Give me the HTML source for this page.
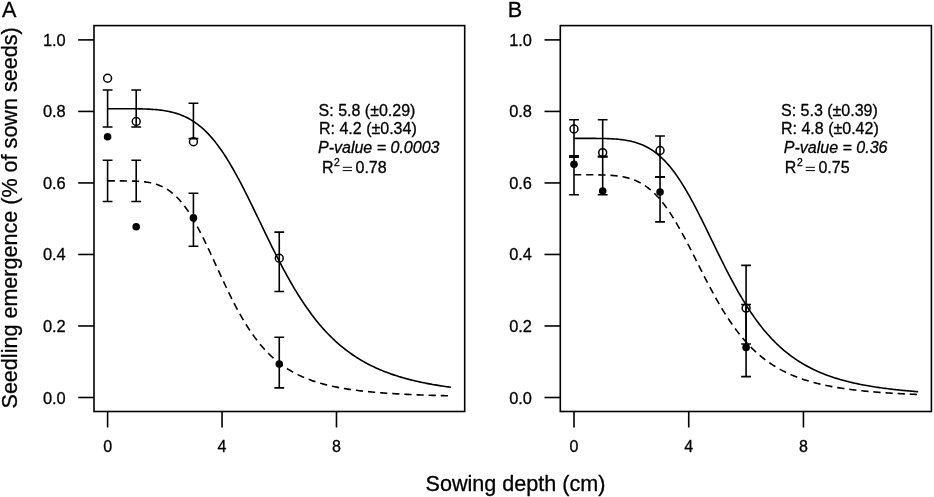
<!DOCTYPE html>
<html><head><meta charset="utf-8"><title>Seedling emergence vs sowing depth</title>
<style>html,body{margin:0;padding:0;background:#fff;}body{width:934px;height:497px;overflow:hidden;font-family:"Liberation Sans",sans-serif;}svg{display:block;filter:grayscale(1);}</style>
</head><body>
<svg width="934" height="497" viewBox="0 0 934 497">
<rect width="934" height="497" fill="#fff"/>
<g fill="none" stroke="#000" stroke-width="1.60" stroke-linecap="butt">
<rect x="94.00" y="25.60" width="370.70" height="385.90"/>
<path d="M78.20,397.50 H94.00"/>
<path d="M78.20,325.98 H94.00"/>
<path d="M78.20,254.46 H94.00"/>
<path d="M78.20,182.94 H94.00"/>
<path d="M78.20,111.42 H94.00"/>
<path d="M78.20,39.90 H94.00"/>
<path d="M107.60,411.50 V427.50"/>
<path d="M222.04,411.50 V427.50"/>
<path d="M336.48,411.50 V427.50"/>
<path d="M107.60,108.70 L109.03,108.70 L110.46,108.70 L111.89,108.70 L113.32,108.70 L114.75,108.70 L116.18,108.70 L117.61,108.70 L119.04,108.70 L120.47,108.70 L121.91,108.71 L123.34,108.71 L124.77,108.71 L126.20,108.71 L127.63,108.72 L129.06,108.72 L130.49,108.73 L131.92,108.74 L133.35,108.75 L134.78,108.77 L136.21,108.79 L137.64,108.81 L139.07,108.83 L140.50,108.86 L141.93,108.90 L143.36,108.94 L144.79,108.98 L146.22,109.04 L147.65,109.10 L149.08,109.17 L150.51,109.25 L151.95,109.33 L153.38,109.43 L154.81,109.54 L156.24,109.67 L157.67,109.81 L159.10,109.96 L160.53,110.13 L161.96,110.31 L163.39,110.51 L164.82,110.74 L166.25,110.98 L167.68,111.25 L169.11,111.53 L170.54,111.85 L171.97,112.18 L173.40,112.55 L174.83,112.95 L176.26,113.37 L177.69,113.83 L179.12,114.32 L180.56,114.84 L181.99,115.40 L183.42,116.00 L184.85,116.64 L186.28,117.32 L187.71,118.04 L189.14,118.81 L190.57,119.62 L192.00,120.48 L193.43,121.38 L194.86,122.34 L196.29,123.35 L197.72,124.40 L199.15,125.52 L200.58,126.68 L202.01,127.91 L203.44,129.19 L204.87,130.52 L206.30,131.92 L207.73,133.37 L209.17,134.89 L210.60,136.46 L212.03,138.10 L213.46,139.80 L214.89,141.55 L216.32,143.37 L217.75,145.25 L219.18,147.19 L220.61,149.19 L222.04,151.25 L223.47,153.37 L224.90,155.55 L226.33,157.78 L227.76,160.07 L229.19,162.41 L230.62,164.80 L232.05,167.25 L233.48,169.75 L234.91,172.29 L236.34,174.88 L237.78,177.51 L239.21,180.18 L240.64,182.89 L242.07,185.64 L243.50,188.43 L244.93,191.24 L246.36,194.08 L247.79,196.95 L249.22,199.84 L250.65,202.75 L252.08,205.68 L253.51,208.63 L254.94,211.58 L256.37,214.55 L257.80,217.52 L259.23,220.50 L260.66,223.47 L262.09,226.45 L263.52,229.42 L264.95,232.39 L266.39,235.34 L267.82,238.29 L269.25,241.22 L270.68,244.13 L272.11,247.03 L273.54,249.91 L274.97,252.76 L276.40,255.59 L277.83,258.39 L279.26,261.17 L280.69,263.92 L282.12,266.64 L283.55,269.32 L284.98,271.98 L286.41,274.59 L287.84,277.18 L289.27,279.73 L290.70,282.24 L292.13,284.71 L293.56,287.15 L295.00,289.54 L296.43,291.90 L297.86,294.22 L299.29,296.49 L300.72,298.73 L302.15,300.93 L303.58,303.09 L305.01,305.20 L306.44,307.28 L307.87,309.31 L309.30,311.31 L310.73,313.26 L312.16,315.18 L313.59,317.06 L315.02,318.89 L316.45,320.69 L317.88,322.45 L319.31,324.17 L320.74,325.86 L322.17,327.50 L323.61,329.11 L325.04,330.69 L326.47,332.22 L327.90,333.73 L329.33,335.20 L330.76,336.63 L332.19,338.03 L333.62,339.40 L335.05,340.74 L336.48,342.05 L337.91,343.32 L339.34,344.56 L340.77,345.78 L342.20,346.96 L343.63,348.12 L345.06,349.25 L346.49,350.35 L347.92,351.43 L349.35,352.48 L350.78,353.50 L352.22,354.50 L353.65,355.47 L355.08,356.42 L356.51,357.35 L357.94,358.25 L359.37,359.13 L360.80,359.99 L362.23,360.83 L363.66,361.65 L365.09,362.45 L366.52,363.23 L367.95,363.98 L369.38,364.72 L370.81,365.45 L372.24,366.15 L373.67,366.84 L375.10,367.51 L376.53,368.16 L377.96,368.80 L379.39,369.42 L380.83,370.03 L382.26,370.62 L383.69,371.20 L385.12,371.76 L386.55,372.31 L387.98,372.85 L389.41,373.37 L390.84,373.88 L392.27,374.38 L393.70,374.87 L395.13,375.34 L396.56,375.81 L397.99,376.26 L399.42,376.70 L400.85,377.13 L402.28,377.55 L403.71,377.96 L405.14,378.36 L406.57,378.75 L408.00,379.13 L409.44,379.51 L410.87,379.87 L412.30,380.23 L413.73,380.57 L415.16,380.91 L416.59,381.24 L418.02,381.57 L419.45,381.88 L420.88,382.19 L422.31,382.49 L423.74,382.79 L425.17,383.07 L426.60,383.35 L428.03,383.63 L429.46,383.90 L430.89,384.16 L432.32,384.42 L433.75,384.67 L435.18,384.91 L436.62,385.15 L438.05,385.39 L439.48,385.61 L440.91,385.84 L442.34,386.06 L443.77,386.27 L445.20,386.48 L446.63,386.68 L448.06,386.88 L449.49,387.08 L450.92,387.27" stroke-linejoin="round"/>
<path d="M107.60,180.90 L109.03,180.90 L110.46,180.90 L111.89,180.90 L113.32,180.90 L114.75,180.90 L116.18,180.90 L117.61,180.90 L119.04,180.91 L120.47,180.91 L121.91,180.91 L123.34,180.92 L124.77,180.93 L126.20,180.94 L127.63,180.96 L129.06,180.98 L130.49,181.01 L131.92,181.04 L133.35,181.09 L134.78,181.14 L136.21,181.20 L137.64,181.28 L139.07,181.37 L140.50,181.47 L141.93,181.60 L143.36,181.74 L144.79,181.90 L146.22,182.09 L147.65,182.31 L149.08,182.55 L150.51,182.83 L151.95,183.14 L153.38,183.49 L154.81,183.88 L156.24,184.31 L157.67,184.79 L159.10,185.31 L160.53,185.89 L161.96,186.53 L163.39,187.22 L164.82,187.97 L166.25,188.79 L167.68,189.68 L169.11,190.64 L170.54,191.67 L171.97,192.78 L173.40,193.97 L174.83,195.24 L176.26,196.59 L177.69,198.03 L179.12,199.55 L180.56,201.16 L181.99,202.86 L183.42,204.65 L184.85,206.53 L186.28,208.50 L187.71,210.56 L189.14,212.71 L190.57,214.94 L192.00,217.26 L193.43,219.66 L194.86,222.14 L196.29,224.69 L197.72,227.32 L199.15,230.02 L200.58,232.78 L202.01,235.60 L203.44,238.47 L204.87,241.40 L206.30,244.37 L207.73,247.38 L209.17,250.43 L210.60,253.50 L212.03,256.59 L213.46,259.70 L214.89,262.82 L216.32,265.95 L217.75,269.07 L219.18,272.19 L220.61,275.30 L222.04,278.39 L223.47,281.46 L224.90,284.51 L226.33,287.53 L227.76,290.51 L229.19,293.45 L230.62,296.36 L232.05,299.22 L233.48,302.04 L234.91,304.80 L236.34,307.52 L237.78,310.18 L239.21,312.79 L240.64,315.34 L242.07,317.83 L243.50,320.27 L244.93,322.64 L246.36,324.96 L247.79,327.22 L249.22,329.42 L250.65,331.56 L252.08,333.64 L253.51,335.66 L254.94,337.62 L256.37,339.53 L257.80,341.38 L259.23,343.17 L260.66,344.91 L262.09,346.60 L263.52,348.23 L264.95,349.81 L266.39,351.34 L267.82,352.82 L269.25,354.25 L270.68,355.64 L272.11,356.98 L273.54,358.27 L274.97,359.53 L276.40,360.74 L277.83,361.91 L279.26,363.04 L280.69,364.13 L282.12,365.18 L283.55,366.20 L284.98,367.19 L286.41,368.14 L287.84,369.06 L289.27,369.94 L290.70,370.80 L292.13,371.62 L293.56,372.42 L295.00,373.19 L296.43,373.94 L297.86,374.66 L299.29,375.35 L300.72,376.02 L302.15,376.67 L303.58,377.30 L305.01,377.90 L306.44,378.49 L307.87,379.05 L309.30,379.60 L310.73,380.12 L312.16,380.63 L313.59,381.12 L315.02,381.60 L316.45,382.06 L317.88,382.50 L319.31,382.93 L320.74,383.35 L322.17,383.75 L323.61,384.14 L325.04,384.51 L326.47,384.88 L327.90,385.23 L329.33,385.57 L330.76,385.90 L332.19,386.22 L333.62,386.52 L335.05,386.82 L336.48,387.11 L337.91,387.39 L339.34,387.66 L340.77,387.92 L342.20,388.18 L343.63,388.43 L345.06,388.66 L346.49,388.90 L347.92,389.12 L349.35,389.34 L350.78,389.55 L352.22,389.75 L353.65,389.95 L355.08,390.14 L356.51,390.33 L357.94,390.51 L359.37,390.68 L360.80,390.85 L362.23,391.02 L363.66,391.18 L365.09,391.33 L366.52,391.48 L367.95,391.63 L369.38,391.77 L370.81,391.91 L372.24,392.05 L373.67,392.18 L375.10,392.30 L376.53,392.43 L377.96,392.54 L379.39,392.66 L380.83,392.77 L382.26,392.88 L383.69,392.99 L385.12,393.09 L386.55,393.20 L387.98,393.29 L389.41,393.39 L390.84,393.48 L392.27,393.57 L393.70,393.66 L395.13,393.75 L396.56,393.83 L397.99,393.91 L399.42,393.99 L400.85,394.07 L402.28,394.14 L403.71,394.21 L405.14,394.28 L406.57,394.35 L408.00,394.42 L409.44,394.49 L410.87,394.55 L412.30,394.61 L413.73,394.67 L415.16,394.73 L416.59,394.79 L418.02,394.85 L419.45,394.90 L420.88,394.96 L422.31,395.01 L423.74,395.06 L425.17,395.11 L426.60,395.16 L428.03,395.20 L429.46,395.25 L430.89,395.29 L432.32,395.34 L433.75,395.38 L435.18,395.42 L436.62,395.46 L438.05,395.50 L439.48,395.54 L440.91,395.58 L442.34,395.62 L443.77,395.65 L445.20,395.69 L446.63,395.72 L448.06,395.76 L449.49,395.79 L450.92,395.82" stroke-linejoin="round" stroke-dasharray="7.25 4.9"/>
<path d="M107.60,90.00 V127.00 M102.70,90.00 H112.50 M102.70,127.00 H112.50"/>
<path d="M136.21,90.00 V127.00 M131.31,90.00 H141.11 M131.31,127.00 H141.11"/>
<path d="M193.43,103.30 V138.60 M188.53,103.30 H198.33 M188.53,138.60 H198.33"/>
<path d="M279.26,232.10 V291.50 M274.36,232.10 H284.16 M274.36,291.50 H284.16"/>
<path d="M107.60,160.30 V201.50 M102.70,160.30 H112.50 M102.70,201.50 H112.50"/>
<path d="M136.21,160.30 V201.50 M131.31,160.30 H141.11 M131.31,201.50 H141.11"/>
<path d="M193.43,193.30 V246.30 M188.53,193.30 H198.33 M188.53,246.30 H198.33"/>
<path d="M279.26,337.30 V387.90 M274.36,337.30 H284.16 M274.36,387.90 H284.16"/>
<circle cx="107.60" cy="78.30" r="3.95" stroke-width="1.5"/>
<circle cx="136.21" cy="121.50" r="3.95" stroke-width="1.5"/>
<circle cx="193.43" cy="141.80" r="3.95" stroke-width="1.5"/>
<circle cx="279.26" cy="258.30" r="3.95" stroke-width="1.5"/>
<circle cx="107.60" cy="136.70" r="3.8" fill="#000" stroke="none"/>
<circle cx="136.21" cy="226.70" r="3.8" fill="#000" stroke="none"/>
<circle cx="193.43" cy="217.90" r="3.8" fill="#000" stroke="none"/>
<circle cx="279.26" cy="364.10" r="3.8" fill="#000" stroke="none"/>
<rect x="560.30" y="25.60" width="371.10" height="385.90"/>
<path d="M544.50,397.50 H560.30"/>
<path d="M544.50,325.98 H560.30"/>
<path d="M544.50,254.46 H560.30"/>
<path d="M544.50,182.94 H560.30"/>
<path d="M544.50,111.42 H560.30"/>
<path d="M544.50,39.90 H560.30"/>
<path d="M574.00,411.50 V427.50"/>
<path d="M688.72,411.50 V427.50"/>
<path d="M803.44,411.50 V427.50"/>
<path d="M574.00,138.38 L575.43,138.38 L576.87,138.38 L578.30,138.38 L579.74,138.38 L581.17,138.38 L582.60,138.38 L584.04,138.38 L585.47,138.38 L586.91,138.39 L588.34,138.39 L589.77,138.39 L591.21,138.39 L592.64,138.40 L594.08,138.41 L595.51,138.42 L596.94,138.43 L598.38,138.44 L599.81,138.46 L601.25,138.48 L602.68,138.51 L604.11,138.54 L605.55,138.57 L606.98,138.62 L608.42,138.67 L609.85,138.73 L611.28,138.79 L612.72,138.87 L614.15,138.96 L615.59,139.06 L617.02,139.17 L618.45,139.30 L619.89,139.45 L621.32,139.61 L622.76,139.79 L624.19,139.99 L625.62,140.21 L627.06,140.45 L628.49,140.71 L629.93,141.01 L631.36,141.33 L632.79,141.68 L634.23,142.06 L635.66,142.47 L637.10,142.92 L638.53,143.41 L639.96,143.93 L641.40,144.49 L642.83,145.10 L644.27,145.75 L645.70,146.44 L647.13,147.18 L648.57,147.97 L650.00,148.82 L651.44,149.71 L652.87,150.66 L654.30,151.67 L655.74,152.74 L657.17,153.86 L658.61,155.04 L660.04,156.29 L661.47,157.60 L662.91,158.97 L664.34,160.41 L665.78,161.92 L667.21,163.49 L668.64,165.13 L670.08,166.83 L671.51,168.61 L672.95,170.44 L674.38,172.35 L675.81,174.32 L677.25,176.36 L678.68,178.46 L680.12,180.63 L681.55,182.86 L682.98,185.15 L684.42,187.50 L685.85,189.91 L687.29,192.37 L688.72,194.88 L690.15,197.45 L691.59,200.06 L693.02,202.72 L694.46,205.42 L695.89,208.16 L697.32,210.94 L698.76,213.75 L700.19,216.59 L701.63,219.45 L703.06,222.35 L704.49,225.26 L705.93,228.18 L707.36,231.12 L708.80,234.07 L710.23,237.03 L711.66,239.99 L713.10,242.95 L714.53,245.90 L715.97,248.85 L717.40,251.79 L718.83,254.72 L720.27,257.63 L721.70,260.52 L723.14,263.39 L724.57,266.24 L726.00,269.07 L727.44,271.86 L728.87,274.63 L730.31,277.37 L731.74,280.07 L733.17,282.74 L734.61,285.37 L736.04,287.96 L737.48,290.52 L738.91,293.03 L740.34,295.50 L741.78,297.94 L743.21,300.32 L744.65,302.67 L746.08,304.97 L747.51,307.23 L748.95,309.45 L750.38,311.61 L751.82,313.74 L753.25,315.82 L754.68,317.86 L756.12,319.85 L757.55,321.80 L758.99,323.70 L760.42,325.56 L761.85,327.38 L763.29,329.15 L764.72,330.89 L766.16,332.58 L767.59,334.23 L769.02,335.84 L770.46,337.40 L771.89,338.94 L773.33,340.43 L774.76,341.88 L776.19,343.30 L777.63,344.68 L779.06,346.02 L780.50,347.33 L781.93,348.61 L783.36,349.85 L784.80,351.06 L786.23,352.23 L787.67,353.38 L789.10,354.50 L790.53,355.58 L791.97,356.64 L793.40,357.66 L794.84,358.66 L796.27,359.64 L797.70,360.58 L799.14,361.50 L800.57,362.40 L802.01,363.27 L803.44,364.12 L804.87,364.94 L806.31,365.75 L807.74,366.53 L809.18,367.29 L810.61,368.02 L812.04,368.74 L813.48,369.44 L814.91,370.12 L816.35,370.78 L817.78,371.43 L819.21,372.05 L820.65,372.66 L822.08,373.25 L823.52,373.83 L824.95,374.39 L826.38,374.94 L827.82,375.47 L829.25,375.98 L830.69,376.49 L832.12,376.98 L833.55,377.45 L834.99,377.92 L836.42,378.37 L837.86,378.81 L839.29,379.24 L840.72,379.65 L842.16,380.06 L843.59,380.45 L845.03,380.84 L846.46,381.21 L847.89,381.58 L849.33,381.93 L850.76,382.28 L852.20,382.61 L853.63,382.94 L855.06,383.26 L856.50,383.57 L857.93,383.88 L859.37,384.17 L860.80,384.46 L862.23,384.74 L863.67,385.02 L865.10,385.28 L866.54,385.55 L867.97,385.80 L869.40,386.05 L870.84,386.29 L872.27,386.52 L873.71,386.75 L875.14,386.98 L876.57,387.20 L878.01,387.41 L879.44,387.62 L880.88,387.82 L882.31,388.02 L883.74,388.21 L885.18,388.40 L886.61,388.58 L888.05,388.76 L889.48,388.94 L890.91,389.11 L892.35,389.28 L893.78,389.44 L895.22,389.60 L896.65,389.75 L898.08,389.90 L899.52,390.05 L900.95,390.20 L902.39,390.34 L903.82,390.48 L905.25,390.61 L906.69,390.74 L908.12,390.87 L909.56,391.00 L910.99,391.12 L912.42,391.24 L913.86,391.36 L915.29,391.48 L916.73,391.59 L918.16,391.70" stroke-linejoin="round"/>
<path d="M574.00,174.79 L575.43,174.79 L576.87,174.79 L578.30,174.79 L579.74,174.79 L581.17,174.79 L582.60,174.79 L584.04,174.79 L585.47,174.79 L586.91,174.79 L588.34,174.79 L589.77,174.80 L591.21,174.80 L592.64,174.81 L594.08,174.82 L595.51,174.83 L596.94,174.85 L598.38,174.87 L599.81,174.90 L601.25,174.93 L602.68,174.96 L604.11,175.01 L605.55,175.06 L606.98,175.12 L608.42,175.20 L609.85,175.28 L611.28,175.38 L612.72,175.49 L614.15,175.62 L615.59,175.76 L617.02,175.92 L618.45,176.11 L619.89,176.31 L621.32,176.54 L622.76,176.80 L624.19,177.08 L625.62,177.40 L627.06,177.74 L628.49,178.12 L629.93,178.54 L631.36,178.99 L632.79,179.49 L634.23,180.03 L635.66,180.61 L637.10,181.24 L638.53,181.92 L639.96,182.66 L641.40,183.44 L642.83,184.29 L644.27,185.19 L645.70,186.15 L647.13,187.17 L648.57,188.26 L650.00,189.41 L651.44,190.63 L652.87,191.92 L654.30,193.28 L655.74,194.70 L657.17,196.20 L658.61,197.77 L660.04,199.42 L661.47,201.13 L662.91,202.92 L664.34,204.78 L665.78,206.71 L667.21,208.71 L668.64,210.78 L670.08,212.92 L671.51,215.12 L672.95,217.38 L674.38,219.71 L675.81,222.10 L677.25,224.54 L678.68,227.03 L680.12,229.58 L681.55,232.17 L682.98,234.80 L684.42,237.47 L685.85,240.18 L687.29,242.92 L688.72,245.69 L690.15,248.48 L691.59,251.29 L693.02,254.11 L694.46,256.95 L695.89,259.79 L697.32,262.63 L698.76,265.48 L700.19,268.32 L701.63,271.15 L703.06,273.97 L704.49,276.77 L705.93,279.56 L707.36,282.32 L708.80,285.06 L710.23,287.77 L711.66,290.45 L713.10,293.09 L714.53,295.71 L715.97,298.28 L717.40,300.82 L718.83,303.31 L720.27,305.77 L721.70,308.18 L723.14,310.55 L724.57,312.87 L726.00,315.14 L727.44,317.37 L728.87,319.55 L730.31,321.69 L731.74,323.77 L733.17,325.81 L734.61,327.80 L736.04,329.75 L737.48,331.64 L738.91,333.49 L740.34,335.29 L741.78,337.05 L743.21,338.75 L744.65,340.42 L746.08,342.04 L747.51,343.61 L748.95,345.14 L750.38,346.63 L751.82,348.08 L753.25,349.49 L754.68,350.85 L756.12,352.18 L757.55,353.47 L758.99,354.72 L760.42,355.93 L761.85,357.11 L763.29,358.25 L764.72,359.36 L766.16,360.44 L767.59,361.49 L769.02,362.50 L770.46,363.48 L771.89,364.43 L773.33,365.36 L774.76,366.26 L776.19,367.12 L777.63,367.97 L779.06,368.78 L780.50,369.58 L781.93,370.34 L783.36,371.09 L784.80,371.81 L786.23,372.51 L787.67,373.19 L789.10,373.85 L790.53,374.49 L791.97,375.11 L793.40,375.71 L794.84,376.29 L796.27,376.85 L797.70,377.40 L799.14,377.93 L800.57,378.45 L802.01,378.95 L803.44,379.43 L804.87,379.90 L806.31,380.36 L807.74,380.80 L809.18,381.23 L810.61,381.65 L812.04,382.05 L813.48,382.44 L814.91,382.82 L816.35,383.19 L817.78,383.55 L819.21,383.90 L820.65,384.24 L822.08,384.57 L823.52,384.89 L824.95,385.20 L826.38,385.50 L827.82,385.79 L829.25,386.08 L830.69,386.35 L832.12,386.62 L833.55,386.88 L834.99,387.13 L836.42,387.38 L837.86,387.62 L839.29,387.85 L840.72,388.08 L842.16,388.30 L843.59,388.51 L845.03,388.72 L846.46,388.92 L847.89,389.12 L849.33,389.31 L850.76,389.50 L852.20,389.68 L853.63,389.86 L855.06,390.03 L856.50,390.20 L857.93,390.36 L859.37,390.52 L860.80,390.67 L862.23,390.82 L863.67,390.97 L865.10,391.11 L866.54,391.25 L867.97,391.38 L869.40,391.52 L870.84,391.64 L872.27,391.77 L873.71,391.89 L875.14,392.01 L876.57,392.13 L878.01,392.24 L879.44,392.35 L880.88,392.46 L882.31,392.56 L883.74,392.66 L885.18,392.76 L886.61,392.86 L888.05,392.95 L889.48,393.05 L890.91,393.14 L892.35,393.22 L893.78,393.31 L895.22,393.39 L896.65,393.48 L898.08,393.56 L899.52,393.63 L900.95,393.71 L902.39,393.78 L903.82,393.86 L905.25,393.93 L906.69,394.00 L908.12,394.06 L909.56,394.13 L910.99,394.19 L912.42,394.26 L913.86,394.32 L915.29,394.38 L916.73,394.44 L918.16,394.50" stroke-linejoin="round" stroke-dasharray="7.25 4.9"/>
<path d="M574.00,119.70 V157.10 M569.10,119.70 H578.90 M569.10,157.10 H578.90"/>
<path d="M602.68,119.80 V157.00 M597.78,119.80 H607.58 M597.78,157.00 H607.58"/>
<path d="M660.04,136.00 V176.90 M655.14,136.00 H664.94 M655.14,176.90 H664.94"/>
<path d="M746.08,265.40 V344.00 M741.18,265.40 H750.98 M741.18,344.00 H750.98"/>
<path d="M574.00,155.90 V194.70 M569.10,155.90 H578.90 M569.10,194.70 H578.90"/>
<path d="M602.68,156.40 V194.70 M597.78,156.40 H607.58 M597.78,194.70 H607.58"/>
<path d="M660.04,176.90 V221.90 M655.14,176.90 H664.94 M655.14,221.90 H664.94"/>
<path d="M746.08,304.50 V376.60 M741.18,304.50 H750.98 M741.18,376.60 H750.98"/>
<circle cx="574.00" cy="129.00" r="3.95" stroke-width="1.5"/>
<circle cx="602.68" cy="152.60" r="3.95" stroke-width="1.5"/>
<circle cx="660.04" cy="150.50" r="3.95" stroke-width="1.5"/>
<circle cx="746.08" cy="308.10" r="3.95" stroke-width="1.5"/>
<circle cx="574.00" cy="164.30" r="3.8" fill="#000" stroke="none"/>
<circle cx="602.68" cy="191.00" r="3.8" fill="#000" stroke="none"/>
<circle cx="660.04" cy="192.10" r="3.8" fill="#000" stroke="none"/>
<circle cx="746.08" cy="347.40" r="3.8" fill="#000" stroke="none"/>
</g>
<g font-family="'Liberation Sans', sans-serif" fill="#000" stroke="#000" stroke-width="0.3" stroke-linejoin="round">
<text x="2.00" y="17.3" font-size="21.6">A</text>
<text x="65.70" y="403.50" font-size="16.4" text-anchor="end">0.0</text>
<text x="65.70" y="331.98" font-size="16.4" text-anchor="end">0.2</text>
<text x="65.70" y="260.46" font-size="16.4" text-anchor="end">0.4</text>
<text x="65.70" y="188.94" font-size="16.4" text-anchor="end">0.6</text>
<text x="65.70" y="117.42" font-size="16.4" text-anchor="end">0.8</text>
<text x="65.70" y="45.90" font-size="16.4" text-anchor="end">1.0</text>
<text x="107.60" y="451.5" font-size="16" text-anchor="middle">0</text>
<text x="222.04" y="451.5" font-size="16" text-anchor="middle">4</text>
<text x="336.48" y="451.5" font-size="16" text-anchor="middle">8</text>
<text x="507.80" y="17.3" font-size="21.6">B</text>
<text x="532.00" y="403.50" font-size="16.4" text-anchor="end">0.0</text>
<text x="532.00" y="331.98" font-size="16.4" text-anchor="end">0.2</text>
<text x="532.00" y="260.46" font-size="16.4" text-anchor="end">0.4</text>
<text x="532.00" y="188.94" font-size="16.4" text-anchor="end">0.6</text>
<text x="532.00" y="117.42" font-size="16.4" text-anchor="end">0.8</text>
<text x="532.00" y="45.90" font-size="16.4" text-anchor="end">1.0</text>
<text x="574.00" y="451.5" font-size="16" text-anchor="middle">0</text>
<text x="688.72" y="451.5" font-size="16" text-anchor="middle">4</text>
<text x="803.44" y="451.5" font-size="16" text-anchor="middle">8</text>
<text x="318.60" y="115.8" font-size="16">S: 5.8 (±0.29)</text>
<text x="319.00" y="133.7" font-size="16">R: 4.2 (±0.34)</text>
<text x="318.00" y="152.9" font-size="16" font-style="italic">P-value = 0.0003</text>
<text x="321.90" y="173.4" font-size="16">R</text>
<text x="334.10" y="165.6" font-size="10.4">2</text>
<text x="355.50" y="173.3" font-size="16">0.78</text>
<path d="M342.80,167.3 h9.2 M342.80,170.6 h9.2" stroke="#000" stroke-width="1.0" fill="none"/>
<text x="781.00" y="115.8" font-size="16">S: 5.3 (±0.39)</text>
<text x="781.00" y="133.7" font-size="16">R: 4.8 (±0.42)</text>
<text x="783.80" y="152.9" font-size="16" font-style="italic">P-value = 0.36</text>
<text x="784.80" y="173.4" font-size="16">R</text>
<text x="797.00" y="165.6" font-size="10.4">2</text>
<text x="818.40" y="173.3" font-size="16">0.75</text>
<path d="M805.70,167.3 h9.2 M805.70,170.6 h9.2" stroke="#000" stroke-width="1.0" fill="none"/>
<text x="425.5" y="490.5" font-size="21.6">Sowing depth (cm)</text>
<text transform="translate(17.1,408.5) rotate(-90)" font-size="21.57">Seedling emergence (% of sown seeds)</text>
</g>
</svg>
</body></html>
